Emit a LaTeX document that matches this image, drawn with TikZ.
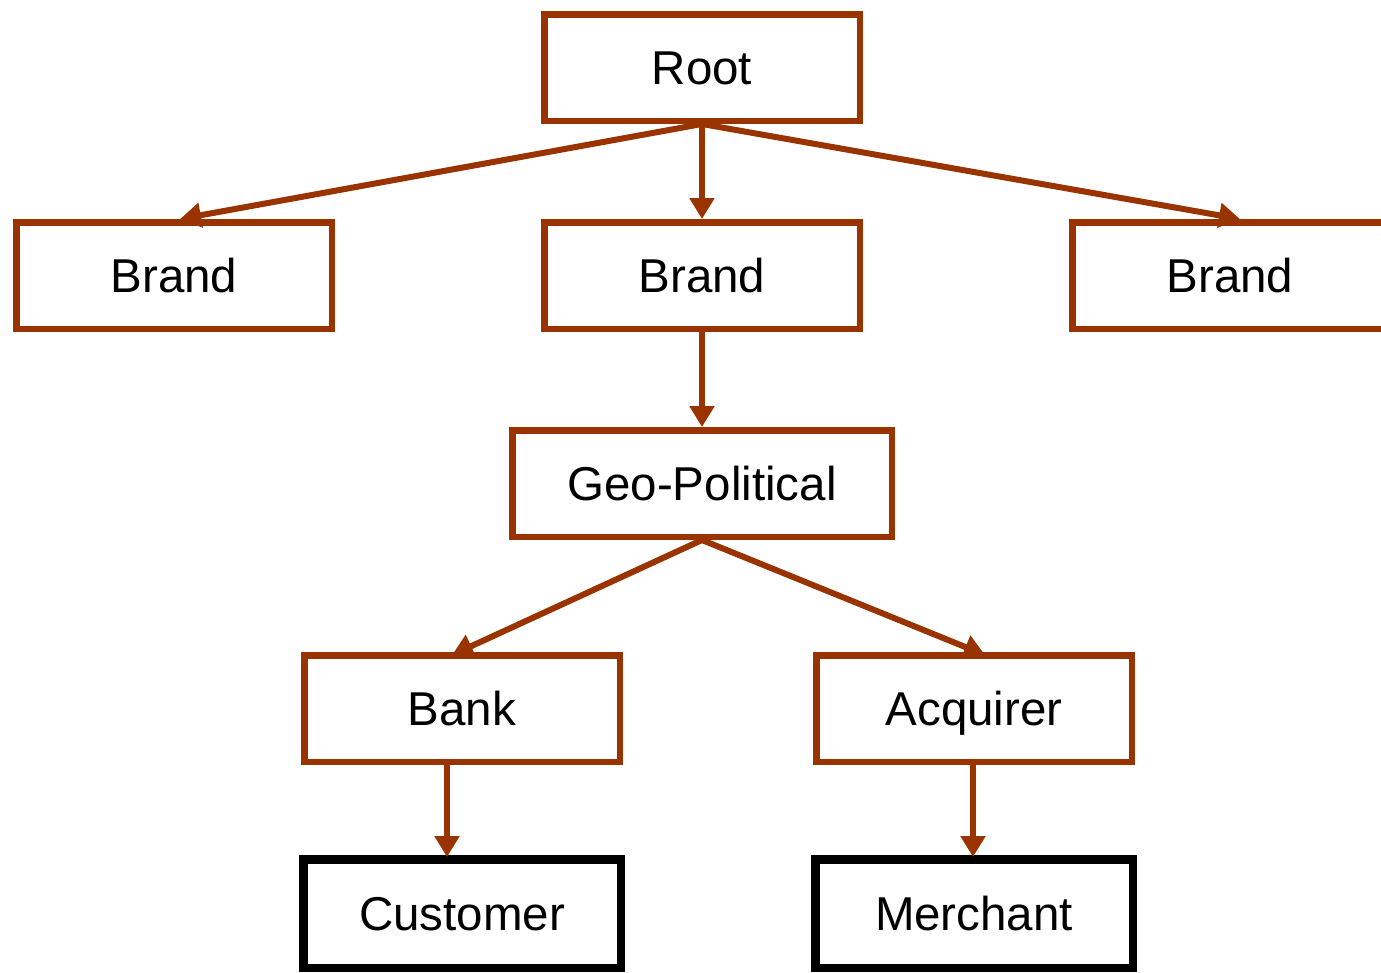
\documentclass[tikz,border=0pt]{standalone}
\usepackage{fontspec}
\setmainfont{Liberation Sans}
\usetikzlibrary{arrows.meta,calc}
\definecolor{rust}{RGB}{153,51,0}
\begin{document}
\begin{tikzpicture}[x=1pt,y=-1pt,
  box/.style={draw=rust,line width=6.5pt,rectangle,minimum width=315.5pt,minimum height=106.5pt,
    inner sep=0pt,text height=34pt,text depth=0pt,font=\fontsize{47.5}{50}\selectfont},
  leaf/.style={box,draw=black,line width=8.5pt,minimum width=317.5pt,minimum height=108.5pt},
  link/.style={draw=rust,line width=6pt,-{Triangle[length=21pt,width=24pt]}}]
\useasboundingbox (0,0) rectangle (1381,972);
\node[box] (root) at (702,67.5) {Root};
\node[box] (brandL) at (174,275.5) {Brand};
\node[box] (brandM) at (702,275.5) {Brand};
\node[box] (brandR) at (1230,275.5) {Brand};
\node[box,minimum width=379.5pt] (geo) at (702,483.5) {Geo-Political};
\node[box] (bank) at (462,708.5) {Bank};
\node[box] (acq) at (974,708.5) {Acquirer};
\node[leaf] (cust) at (462,913.5) {Customer};
\node[leaf] (merch) at (974,913.5) {Merchant};
\draw[link] (root.south) -- ([xshift=6pt]brandL.north);
\draw[link] (root.south) -- (brandM.north);
\draw[link] (root.south) -- ([xshift=10pt]brandR.north);
\draw[link] (brandM.south) -- (geo.north);
\draw[link] (geo.south) -- ([xshift=-10pt,yshift=-3pt]bank.north);
\draw[link] (geo.south) -- ([xshift=11pt,yshift=-3pt]acq.north);
\draw[link] ([xshift=-15pt]bank.south) -- ([xshift=-15pt,yshift=-2pt]cust.north);
\draw[link] ([xshift=-1pt]acq.south) -- ([xshift=-1pt,yshift=-2pt]merch.north);
\end{tikzpicture}
\end{document}
